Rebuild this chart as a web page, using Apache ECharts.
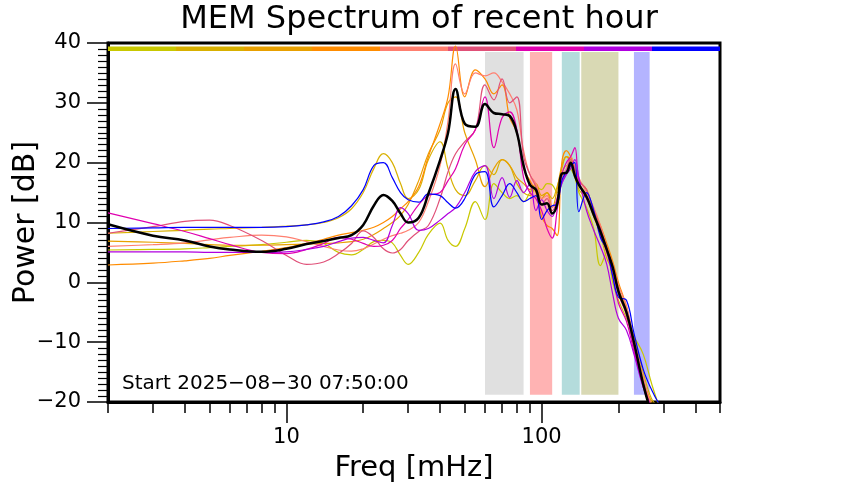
<!DOCTYPE html>
<html>
<head>
<meta charset="utf-8">
<script src="https://cdn.jsdelivr.net/npm/echarts@6/dist/echarts.min.js"></script>
<style>
html, body { margin: 0; padding: 0; background: #fff; }
#chart { width: 842px; height: 500px; }
</style>
</head>
<body>
<div id="chart"></div>
<script>
// frequency grid (mHz)
const freqs = [2, 3, 4, 5, 6, 8, 10, 12, 14, 16, 18, 20, 22, 24, 26, 28, 30, 33, 36, 40, 43, 46, 50, 55, 60, 65, 70, 75, 80, 85, 90, 95, 100, 105, 110, 115, 120, 125, 130, 135, 140, 150, 160, 170, 180, 190, 200, 215, 230, 250, 270, 290]

// one spectrum per 10-min slice, oldest first (dB)
const spec1 = [5.4, 5.5, 5.6, 5.8, 6.0, 6.3, 6.7, 7.0, 6.5, 5.0, 4.6, 5.5, 6.8, 7.0, 6.6, 4.5, 3.0, 5.0, 8.0, 9.9, 7.0, 6.0, 9.0, 13.5, 10.5, 16.5, 15.0, 14.0, 14.5, 13.5, 15.0, 16.0, 15.5, 16.5, 16.3, 15.0, 18.0, 19.5, 19.0, 17.5, 15.0, 12.5, 9.0, 2.8, 5.0, 0.0, -3.0, -6.0, -9.0, -12.0, -17.0, -21.0]
const spec2 = [8.2, 8.5, 8.7, 8.9, 9.0, 9.2, 9.4, 9.6, 10.0, 10.8, 12.3, 15.0, 19.0, 21.5, 20.0, 16.5, 14.0, 15.5, 20.5, 23.5, 19.0, 15.5, 14.5, 17.0, 19.5, 18.0, 20.5, 19.5, 16.5, 15.0, 14.5, 16.0, 14.0, 15.0, 14.0, 16.0, 19.0, 21.0, 20.0, 18.0, 15.5, 14.0, 11.0, 8.0, 4.0, 2.0, -1.5, -5.0, -9.0, -15.0, -19.5, -21.0]
const spec3 = [6.9, 6.7, 6.5, 6.3, 6.2, 6.2, 6.3, 6.4, 6.5, 6.6, 6.8, 7.2, 8.0, 9.0, 10.0, 11.2, 13.0, 17.0, 21.5, 25.5, 30.0, 31.0, 25.0, 20.5, 16.0, 19.0, 20.5, 19.5, 17.5, 16.5, 15.5, 16.5, 14.5, 15.0, 12.5, 15.5, 19.5, 21.0, 20.5, 18.5, 16.5, 14.5, 11.5, 9.0, 5.5, 3.0, -1.0, -4.5, -10.5, -16.5, -20.0, -22.0]
const spec4 = [2.9, 3.2, 3.6, 4.0, 4.5, 5.2, 5.8, 6.5, 7.2, 7.9, 8.3, 8.7, 9.2, 10.0, 11.0, 12.3, 13.5, 16.0, 21.0, 26.5, 31.0, 39.5, 31.0, 35.5, 34.0, 31.5, 33.0, 27.5, 25.0, 19.0, 17.0, 15.0, 11.0, 9.5, 9.0, 7.8, 20.0, 22.0, 21.0, 19.0, 17.0, 15.5, 12.0, 9.5, 6.5, 3.5, 0.0, -4.0, -10.0, -16.0, -21.0, -23.0]
const spec5 = [6.0, 6.3, 6.6, 7.1, 7.5, 7.9, 7.6, 6.8, 6.0, 5.4, 5.2, 5.6, 6.4, 7.2, 7.8, 8.2, 8.7, 10.0, 13.5, 19.5, 27.0, 36.5, 31.5, 35.0, 34.5, 35.0, 33.5, 31.5, 28.8, 22.0, 18.0, 16.5, 14.0, 14.5, 12.5, 14.0, 17.5, 19.0, 21.0, 19.5, 17.5, 15.0, 12.5, 9.5, 6.0, 3.0, -0.5, -4.0, -9.5, -16.0, -20.5, -22.0]
const spec6 = [8.2, 9.3, 10.2, 10.4, 9.5, 7.0, 4.5, 3.0, 3.4, 4.8, 6.5, 8.6, 7.5, 5.6, 4.9, 5.5, 7.0, 8.5, 9.5, 14.0, 18.5, 21.5, 23.5, 25.5, 33.0, 30.5, 34.0, 30.0, 31.0, 21.0, 18.0, 16.0, 13.0, 14.0, 12.0, 13.5, 16.5, 18.5, 20.5, 19.0, 17.0, 15.5, 12.0, 9.0, 5.5, 2.0, -2.0, -5.5, -11.0, -17.5, -21.0, -23.0]
const spec7 = [11.6, 9.8, 8.5, 7.3, 6.3, 5.0, 4.8, 5.5, 6.5, 7.5, 7.2, 6.5, 6.0, 6.2, 7.0, 9.0, 10.5, 13.0, 14.5, 15.0, 17.0, 19.0, 23.0, 25.5, 31.0, 22.5, 27.5, 28.5, 25.5, 17.5, 15.0, 14.0, 12.0, 9.0, 7.4, 12.0, 18.0, 20.0, 21.0, 22.5, 17.0, 14.0, 11.5, 8.0, 5.0, 1.0, -3.5, -6.5, -11.5, -17.0, -21.0, -23.0]
const spec8 = [5.1, 5.1, 5.1, 5.0, 5.0, 5.0, 5.1, 5.5, 6.0, 6.8, 7.4, 7.5, 7.0, 6.6, 9.5, 12.5, 11.5, 8.7, 9.0, 10.4, 11.5, 12.5, 15.0, 18.5, 19.5, 14.0, 17.5, 14.2, 17.0, 15.0, 16.5, 12.0, 13.8, 12.0, 11.0, 14.0, 16.5, 18.0, 19.0, 20.5, 17.4, 12.0, 8.7, 6.0, 3.0, -2.0, -6.0, -8.0, -12.0, -17.5, -21.0, -23.0]
const spec9 = [9.0, 9.1, 9.2, 9.2, 9.2, 9.2, 9.3, 9.6, 10.1, 11.0, 12.8, 15.5, 19.5, 20.0, 17.5, 15.0, 13.8, 13.4, 14.8, 14.5, 13.3, 12.4, 14.0, 18.0, 18.5, 12.6, 14.5, 16.5, 15.0, 13.5, 14.0, 14.5, 10.5, 12.0, 12.8, 13.0, 17.0, 18.5, 19.5, 20.0, 11.8, 15.0, 12.0, 7.5, 5.5, 1.0, -2.5, -3.0, -8.5, -14.5, -18.0, -20.5]
const meanDb = [9.7, 7.8, 7.0, 6.0, 5.5, 5.1, 5.6, 6.4, 6.9, 7.4, 7.9, 9.6, 12.8, 14.6, 13.6, 11.5, 10.0, 10.8, 14.8, 20.4, 25.0, 32.3, 26.5, 26.0, 29.8, 28.3, 28.1, 27.8, 25.0, 19.5, 16.3, 15.5, 13.0, 13.2, 11.5, 13.0, 18.2, 18.3, 20.0, 17.8, 16.3, 14.3, 11.3, 8.5, 5.5, 2.5, -1.5, -5.0, -10.0, -17.0, -22.0, -25.0]

const spectra = [spec1, spec2, spec3, spec4, spec5, spec6, spec7, spec8, spec9]
const hourColors = ['#c8c800', '#d8b000', '#e8a000', '#ff8c00', '#ff7f6f', '#e05078', '#e000b0', '#b000e0', '#0000ff']

// shaded frequency bands (mHz)
const bandRanges = [[60, 85], [90, 110], [120, 141], [143, 200], [230, 265]]
const bandColors = ['#e0e0e0', '#ffb3b3', '#b4dcdc', '#d9d9b4', '#b4b4ff']

const xMajorTicks = [10, 100]
const xMinorTicks = [2, 3, 4, 5, 6, 7, 8, 9, 20, 30, 40, 50, 60, 70, 80, 90, 200, 300, 400, 500]
const xRange = [2, 500]
const startText = 'Start 2025\u221208\u221230 07:50:00'

const lg = v => Math.log10(v)
const pts = arr => freqs.map((f, i) => [lg(f), arr[i]])
const minus = v => (v < 0 ? '\u2212' + Math.abs(v) : String(v))

let areas = bandRanges.map((r, i) => [
  { xAxis: lg(r[0]), yAxis: 38.5, itemStyle: { color: bandColors[i] } },
  { xAxis: lg(r[1]), yAxis: -18.8 }
])
// hour colour strip along the top, split evenly over the axis
const step = (lg(xRange[1]) - lg(xRange[0])) / hourColors.length
hourColors.forEach((c, i) => {
  areas.push([
    { xAxis: lg(xRange[0]) + i * step, yAxis: 39.4, itemStyle: { color: c } },
    { xAxis: lg(xRange[0]) + (i + 1) * step, yAxis: 38.65 }
  ])
})

let series = [{
  name: 'bands',
  type: 'line',
  data: [],
  z: 1,
  markArea: { silent: true, itemStyle: { opacity: 1 }, data: areas }
}]
spectra.forEach((s, i) => {
  series.push({
    type: 'line',
    data: pts(s),
    smooth: 0.4,
    showSymbol: false,
    z: 2,
    lineStyle: { color: hourColors[i], width: 1.2 }
  })
})
series.push({
  name: 'mean',
  type: 'line',
  data: pts(meanDb),
  smooth: 0.4,
  showSymbol: false,
  z: 3,
  lineStyle: { color: '#000', width: 2.5 }
})

const font = 'DejaVu Sans, Liberation Sans, sans-serif'
let myChart = echarts.init(document.getElementById('chart'))
let option = {
  animation: false,
  textStyle: { fontFamily: font },
  title: [
    { text: 'MEM Spectrum of recent hour', left: 414, textAlign: 'center', top: -1,
      textStyle: { fontSize: 32, fontWeight: 'normal', color: '#000', fontFamily: font } },
    { text: startText, left: 117, top: 369,
      textStyle: { fontSize: 20, fontWeight: 'normal', color: '#000', fontFamily: font } }
  ],
  grid: { left: 108, right: 122, top: 43, bottom: 98, show: true, borderColor: '#000', borderWidth: 3,
    containLabel: false, outerBoundsMode: 'none' },
  xAxis: [
    {
      type: 'value', position: 'bottom', min: lg(xRange[0]), max: lg(xRange[1]),
      name: 'Freq [mHz]', nameLocation: 'middle', nameGap: 52, nameMoveOverlap: false,
      nameTextStyle: { fontSize: 29, color: '#000', fontFamily: font },
      axisLine: { onZero: false, lineStyle: { color: '#000', width: 3 } },
      axisTick: { length: 21, lineStyle: { color: '#000', width: 1.5 }, customValues: xMajorTicks.map(lg) },
      axisLabel: { fontSize: 21, color: '#000', margin: 25, customValues: xMajorTicks.map(lg),
        formatter: v => String(Math.round(Math.pow(10, v))) },
      splitLine: { show: false }
    },
    {
      type: 'value', position: 'bottom', min: lg(xRange[0]), max: lg(xRange[1]),
      axisLine: { show: false, onZero: false },
      axisTick: { length: 11, lineStyle: { color: '#000', width: 1.5 }, customValues: xMinorTicks.map(lg) },
      axisLabel: { show: false },
      splitLine: { show: false }
    }
  ],
  yAxis: {
    type: 'value', min: -20, max: 40, interval: 10,
    name: 'Power [dB]', nameLocation: 'middle', nameGap: 67, nameMoveOverlap: false,
    nameTextStyle: { fontSize: 30, color: '#000', fontFamily: font },
    axisLine: { lineStyle: { color: '#000', width: 3 } },
    axisTick: { length: 21, lineStyle: { color: '#000', width: 1.5 } },
    minorTick: { show: true, splitNumber: 10, length: 10, lineStyle: { color: '#000', width: 1.2 } },
    axisLabel: { fontSize: 21, color: '#000', margin: 27, formatter: minus },
    splitLine: { show: false }
  },
  series: series
}
myChart.setOption(option)
</script>
</body>
</html>
